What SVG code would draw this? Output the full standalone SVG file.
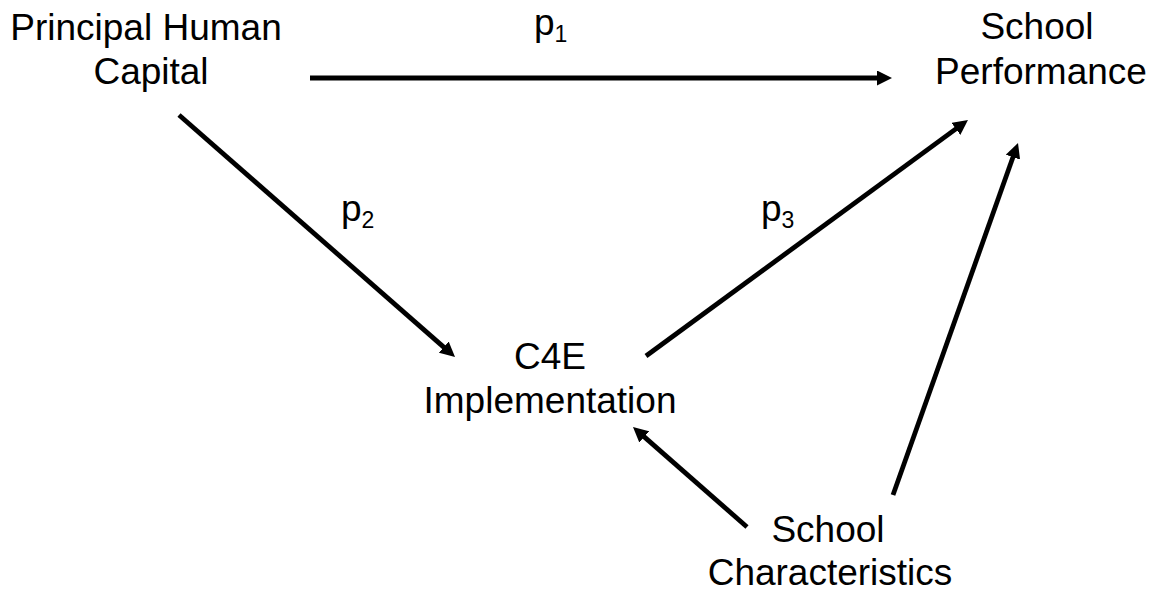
<svg xmlns="http://www.w3.org/2000/svg" width="1159" height="594" viewBox="0 0 1159 594">
<style>
.t{font-family:"Liberation Sans",Arial,sans-serif;font-size:37px;fill:#000;text-anchor:middle}
.p{font-family:"Liberation Sans",Arial,sans-serif;font-size:37px;fill:#000}
.s{font-size:23px}
.c{stroke:#000;stroke-width:4.8;fill:none;marker-end:url(#ah)}
</style>
<defs>
<marker id="ah" markerUnits="userSpaceOnUse" markerWidth="15" markerHeight="15" refX="3" refY="7.5" orient="auto" viewBox="0 0 15 15">
<path d="M0,0 L15,7.5 L0,15 z" fill="#000"/>
</marker>
</defs>
<rect width="1159" height="594" fill="#fff"/>
<g id="connectors">
<line class="c" x1="310" y1="78" x2="880" y2="78"/>
<line class="c" x1="179" y1="115" x2="446" y2="349.1"/>
<line class="c" x1="646" y1="356" x2="958.3" y2="127.1"/>
<line class="c" x1="893" y1="495" x2="1014" y2="154.3"/>
<line class="c" x1="747" y1="527" x2="642" y2="434.9"/>
</g>
<g id="principal">
<text class="t" x="146" y="40">Principal Human</text>
<text class="t" x="151" y="84">Capital</text>
</g>
<g id="performance">
<text class="t" x="1037" y="39">School</text>
<text class="t" x="1041" y="84">Performance</text>
</g>
<g id="c4e">
<text class="t" x="550" y="369">C4E</text>
<text class="t" x="550" y="413">Implementation</text>
</g>
<g id="characteristics">
<text class="t" x="828" y="542">School</text>
<text class="t" x="830" y="585">Characteristics</text>
</g>
<g id="labels">
<text class="p" x="534" y="35">p<tspan class="s" dy="7">1</tspan></text>
<text class="p" x="341" y="221">p<tspan class="s" dy="7">2</tspan></text>
<text class="p" x="761" y="221">p<tspan class="s" dy="7">3</tspan></text>
</g>
</svg>
